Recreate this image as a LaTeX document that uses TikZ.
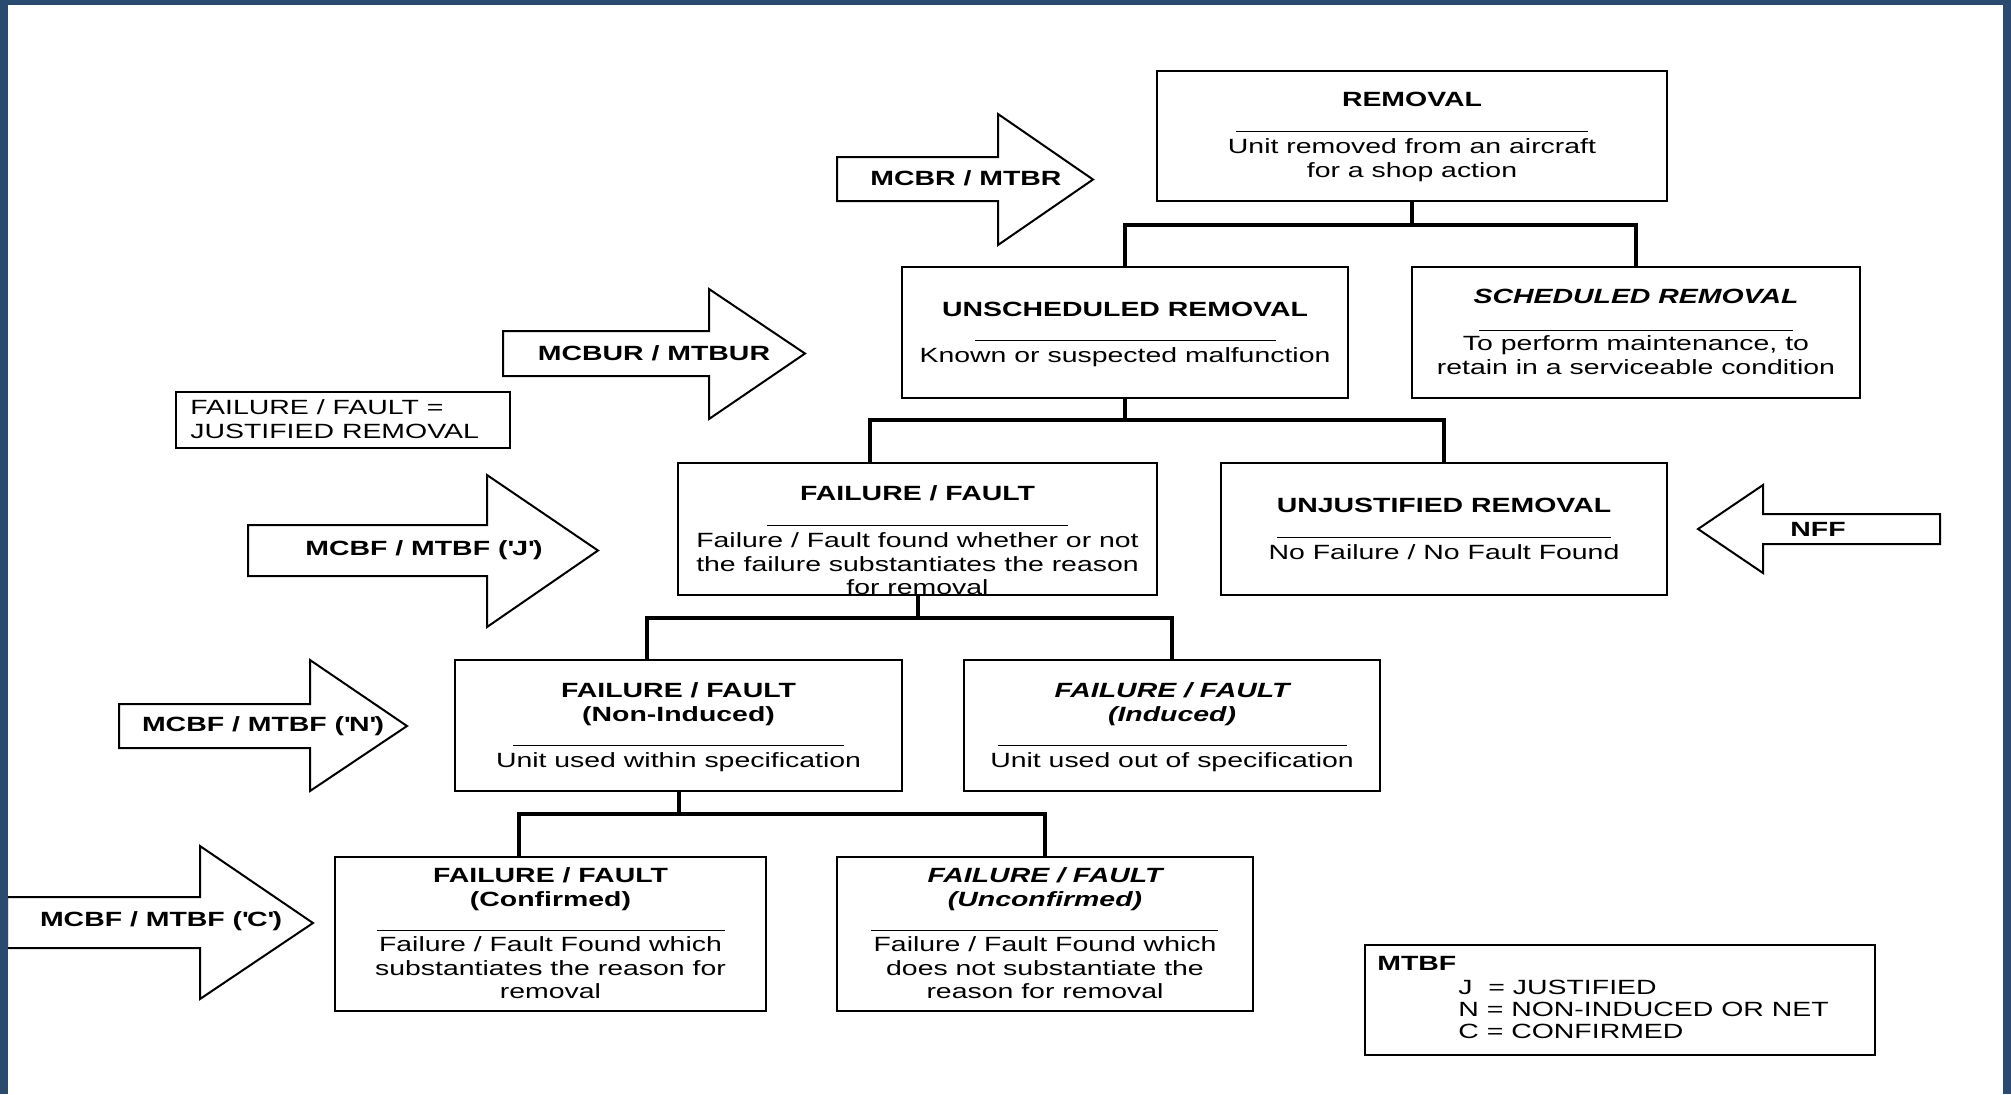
\documentclass[tikz,border=0pt]{standalone}
\usepackage{fontspec}
\setmainfont{Liberation Sans}[FakeStretch=1.38]
\definecolor{framebl}{RGB}{42,74,112}
\tikzset{
  box/.style={draw, line width=1.3pt, inner sep=0pt},
  ttl/.style={font=\fontsize{10.3}{12}\selectfont\bfseries, align=center, inner sep=0pt},
  ittl/.style={font=\fontsize{10.3}{12}\selectfont\bfseries\itshape, align=center, inner sep=0pt},
  txt/.style={font=\fontsize{10.3}{11.7}\selectfont, align=center, inner sep=0pt},
  sepline/.style={line width=0.5pt},
  link/.style={line width=2pt},
  bigarrow/.style={draw, line width=1pt, fill=white, line join=miter},
}
\begin{document}
\begin{tikzpicture}[x=0.5pt, y=-0.5pt]
    \useasboundingbox (0,0) rectangle (2011,1094);

    % Boxes
    \node[box, minimum width=255pt, minimum height=65pt] (removal) at (1412,136) {};
    \node[box, minimum width=223pt, minimum height=65.5pt] (unsched) at (1125,332.5) {};
    \node[box, minimum width=224pt, minimum height=65.5pt] (sched) at (1636,332.5) {};
    \node[box, minimum width=239.5pt, minimum height=66pt] (failure) at (917.5,529) {};
    \node[box, minimum width=223pt, minimum height=66pt] (unjust) at (1444,529) {};
    \node[box, minimum width=223.5pt, minimum height=65.5pt] (noninduced) at (678.5,725.5) {};
    \node[box, minimum width=208pt, minimum height=65.5pt] (induced) at (1172,725.5) {};
    \node[box, minimum width=215.5pt, minimum height=77pt] (confirmed) at (550.5,934) {};
    \node[box, minimum width=208pt, minimum height=77pt] (unconfirmed) at (1045,934) {};
    \node[box, minimum width=167pt, minimum height=28pt] (justnote) at (343,420) {};
    \node[box, minimum width=255pt, minimum height=55pt] (legend) at (1620,1000) {};

    % Box texts
    \node[ttl] at (1412,99) {REMOVAL};
    \draw[sepline] (1236,131) -- (1588,131);
    \node[txt] at (1412,160) {Unit removed from an aircraft\\for a shop action};

    \node[ttl] at (1125,309) {UNSCHEDULED REMOVAL};
    \draw[sepline] (975,340) -- (1276,340);
    \node[txt] at (1125,357) {Known or suspected malfunction};

    \node[ittl] at (1636,296) {SCHEDULED REMOVAL};
    \draw[sepline] (1479,330) -- (1793,330);
    \node[txt] at (1636,355) {To perform maintenance, to\\retain in a serviceable condition};

    \node[ttl] at (917.5,493) {FAILURE / FAULT};
    \draw[sepline] (767,525) -- (1068,525);
    \node[txt] at (917.5,564) {Failure / Fault found whether or not\\the failure substantiates the reason\\for removal};

    \node[ttl] at (1444,505) {UNJUSTIFIED REMOVAL};
    \draw[sepline] (1277,537) -- (1611,537);
    \node[txt] at (1444,552) {No Failure / No Fault Found};

    \node[ttl] at (678.5,704) {FAILURE / FAULT\\(Non-Induced)};
    \draw[sepline] (513,745) -- (844,745);
    \node[txt] at (678.5,762) {Unit used within specification};

    \node[ittl] at (1172,704) {FAILURE / FAULT\\(Induced)};
    \draw[sepline] (998,745) -- (1347,745);
    \node[txt] at (1172,762) {Unit used out of specification};

    \node[ttl] at (550.5,889) {FAILURE / FAULT\\(Confirmed)};
    \draw[sepline] (377,930) -- (725,930);
    \node[txt] at (550.5,968) {Failure / Fault Found which\\substantiates the reason for\\removal};

    \node[ittl] at (1045,889) {FAILURE / FAULT\\(Unconfirmed)};
    \draw[sepline] (871,930) -- (1218,930);
    \node[txt] at (1045,968) {Failure / Fault Found which\\does not substantiate the\\reason for removal};

    \node[txt, align=left, anchor=west, font=\fontsize{10.3}{12.2}\selectfont] at (190,419) {FAILURE / FAULT =\\JUSTIFIED REMOVAL};

    \node[ttl, anchor=west] at (1377,963) {MTBF};
    \node[txt, align=left, anchor=west, font=\fontsize{10.3}{11}\selectfont] at (1458,1009) {J\ \ = JUSTIFIED\\N = NON-INDUCED OR NET\\C = CONFIRMED};

    % Connectors
    \draw[link] (removal.south) -- ++(0,23) -| (unsched.north);
    \draw[link] (removal.south) -- ++(0,23) -| (sched.north);
    \draw[link] (unsched.south) -- ++(0,21) -| ([xshift=-23.75pt]failure.north);
    \draw[link] (unsched.south) -- ++(0,21) -| (unjust.north);
    \draw[link] (failure.south) -- ++(0,22) -| ([xshift=-16pt]noninduced.north);
    \draw[link] (failure.south) -- ++(0,22) -| (induced.north);
    \draw[link] (noninduced.south) -- ++(0,22) -| ([xshift=-16pt]confirmed.north);
    \draw[link] (noninduced.south) -- ++(0,22) -| (unconfirmed.north);

    % Block arrows
    \draw[bigarrow] (837,157) -- (998,157) -- (998,114) -- (1093,179.5) -- (998,245) -- (998,201) -- (837,201) -- cycle;
    \node[ttl] (mcbr) at (966,178) {MCBR / MTBR};

    \draw[bigarrow] (503,331) -- (709,331) -- (709,289) -- (805,353.5) -- (709,419) -- (709,376) -- (503,376) -- cycle;
    \node[ttl] (mcbur) at (654,353) {MCBUR / MTBUR};

    \draw[bigarrow] (248,525) -- (487,525) -- (487,475) -- (598,550.5) -- (487,627) -- (487,576) -- (248,576) -- cycle;
    \node[ttl] (mcbfj) at (424,550) {MCBF / MTBF (\textquotesingle J\textquotesingle)};

    \draw[bigarrow] (119,704) -- (310,704) -- (310,660) -- (407,726) -- (310,791) -- (310,748) -- (119,748) -- cycle;
    \node[ttl] (mcbfn) at (263,726) {MCBF / MTBF (\textquotesingle N\textquotesingle)};

    \draw[bigarrow] (7,897) -- (200,897) -- (200,846) -- (313,923) -- (200,999) -- (200,948) -- (7,948) -- cycle;
    \node[ttl] (mcbfc) at (161,921) {MCBF / MTBF (\textquotesingle C\textquotesingle)};

    \draw[bigarrow] (1940,514) -- (1763,514) -- (1763,485) -- (1698,529) -- (1763,573) -- (1763,544) -- (1940,544) -- cycle;
    \node[ttl] (nff) at (1818,529) {NFF};

    % Frame
    \fill[framebl] (0,0) rectangle (2011,5);
    \fill[framebl] (0,0) rectangle (8,1094);
    \fill[framebl] (2003,0) rectangle (2011,1094);
\end{tikzpicture}
\end{document}
